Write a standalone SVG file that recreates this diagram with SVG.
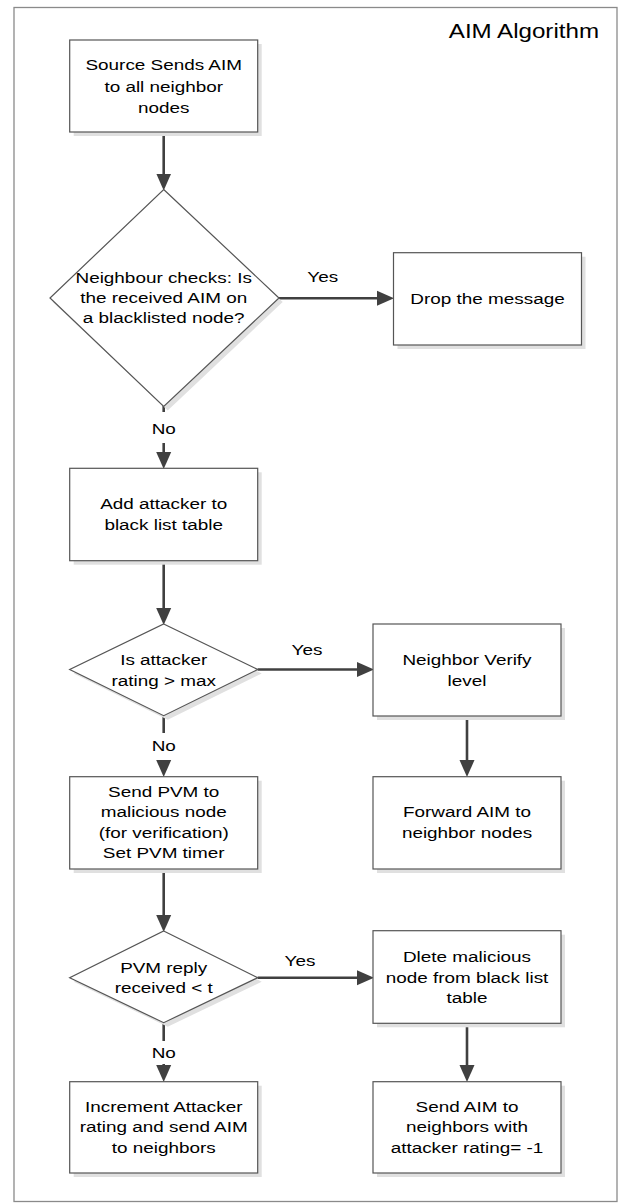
<svg xmlns="http://www.w3.org/2000/svg" width="620" height="1203" viewBox="0 0 620 1203">
<defs>
<style>
.frame{fill:#fff;stroke:#8a8a8a;stroke-width:1.3}
.box{fill:#fff;stroke:#555;stroke-width:1.2}
.sh{fill:#e0e0e0;stroke:none}
.ln{fill:none;stroke:#404040;stroke-width:2.6}
.t{font-family:"Liberation Sans",Arial,sans-serif;font-size:15.5px;text-anchor:middle;fill:#000}
.title{font-family:"Liberation Sans",Arial,sans-serif;font-size:21px;text-anchor:end;fill:#000}
</style>
<marker id="ah" markerUnits="userSpaceOnUse" markerWidth="18" markerHeight="18" viewBox="0 0 18 18" refX="8" refY="9" orient="auto">
<path d="M0,1.5 L17,9 L0,16.5 z" fill="#404040"/>
</marker>
</defs>
<rect class="frame" x="14" y="7.5" width="603" height="1194"/>
<text class="title" transform="translate(599 0) scale(1.15 1)" x="0" y="38">AIM Algorithm</text>

<g id="connectors">
<line class="ln" x1="163.7" y1="132" x2="163.7" y2="181.5" marker-end="url(#ah)"/>
<line class="ln" x1="278" y1="298.3" x2="385" y2="298.3" marker-end="url(#ah)"/>
<line class="ln" x1="163.7" y1="405" x2="163.7" y2="412"/>
<line class="ln" x1="163.7" y1="443" x2="163.7" y2="460" marker-end="url(#ah)"/>
<line class="ln" x1="163.7" y1="560.7" x2="163.7" y2="616" marker-end="url(#ah)"/>
<line class="ln" x1="257.7" y1="669.5" x2="365" y2="669.5" marker-end="url(#ah)"/>
<line class="ln" x1="467" y1="716" x2="467" y2="768" marker-end="url(#ah)"/>
<line class="ln" x1="163.7" y1="715.7" x2="163.7" y2="733"/>
<line class="ln" x1="163.7" y1="760" x2="163.7" y2="768" marker-end="url(#ah)"/>
<line class="ln" x1="163.7" y1="869" x2="163.7" y2="923" marker-end="url(#ah)"/>
<line class="ln" x1="257.7" y1="977.7" x2="365" y2="977.7" marker-end="url(#ah)"/>
<line class="ln" x1="467" y1="1023.3" x2="467" y2="1073" marker-end="url(#ah)"/>
<line class="ln" x1="163.7" y1="1022.7" x2="163.7" y2="1041"/>
<line class="ln" x1="163.7" y1="1064" x2="163.7" y2="1073" marker-end="url(#ah)"/>
</g>

<g id="labels">
<text class="t" transform="translate(322.7 0) scale(1.22 1)" x="0" y="282">Yes</text>
<text class="t" transform="translate(163.7 0) scale(1.22 1)" x="0" y="434">No</text>
<text class="t" transform="translate(307 0) scale(1.22 1)" x="0" y="655.5">Yes</text>
<text class="t" transform="translate(163.7 0) scale(1.22 1)" x="0" y="751">No</text>
<text class="t" transform="translate(300 0) scale(1.22 1)" x="0" y="966">Yes</text>
<text class="t" transform="translate(163.7 0) scale(1.22 1)" x="0" y="1058">No</text>
</g>

<g id="n1">
<rect class="sh" x="73.7" y="44" width="188" height="92"/>
<rect class="box" x="69.7" y="40" width="188" height="92"/>
<text class="t" transform="translate(163.7 0) scale(1.22 1)" x="0" y="70.5">Source Sends AIM<tspan x="0" y="92">to all neighbor</tspan><tspan x="0" y="113.5">nodes</tspan></text>
</g>

<g id="d1">
<polygon class="sh" points="167.7,193.5 282.7,302 167.7,410.5 52.7,302"/>
<polygon class="box" points="163.7,189.5 279,298 163.7,406.5 50,298"/>
<text class="t" transform="translate(163.7 0) scale(1.22 1)" x="0" y="283">Neighbour checks: Is<tspan x="0" y="303">the received AIM on</tspan><tspan x="0" y="323">a blacklisted node?</tspan></text>
</g>

<g id="drop">
<rect class="sh" x="397.5" y="256.7" width="188" height="92.3"/>
<rect class="box" x="393.5" y="252.7" width="188" height="92.3"/>
<text class="t" transform="translate(487.5 0) scale(1.22 1)" x="0" y="304">Drop the message</text>
</g>

<g id="n2">
<rect class="sh" x="73.7" y="472.3" width="188" height="92.4"/>
<rect class="box" x="69.7" y="468.3" width="188" height="92.4"/>
<text class="t" transform="translate(163.7 0) scale(1.22 1)" x="0" y="509.5">Add attacker to<tspan x="0" y="530">black list table</tspan></text>
</g>

<g id="d2">
<polygon class="sh" points="167.7,628 261.7,673.5 167.7,719.7 73.7,673.5"/>
<polygon class="box" points="163.7,624 257.7,669.5 163.7,715.7 69.7,669.5"/>
<text class="t" transform="translate(163.7 0) scale(1.22 1)" x="0" y="665.5">Is attacker<tspan x="0" y="686">rating &gt; max</tspan></text>
</g>

<g id="nv">
<rect class="sh" x="377" y="628" width="188" height="92"/>
<rect class="box" x="373" y="624" width="188" height="92"/>
<text class="t" transform="translate(467 0) scale(1.22 1)" x="0" y="665.5">Neighbor Verify<tspan x="0" y="686">level</tspan></text>
</g>

<g id="n3">
<rect class="sh" x="73.7" y="780.7" width="188" height="92.3"/>
<rect class="box" x="69.7" y="776.7" width="188" height="92.3"/>
<text class="t" transform="translate(163.7 0) scale(1.22 1)" x="0" y="797">Send PVM to<tspan x="0" y="817.5">malicious node</tspan><tspan x="0" y="838">(for verification)</tspan><tspan x="0" y="858.5">Set PVM timer</tspan></text>
</g>

<g id="fwd">
<rect class="sh" x="377" y="780.7" width="188" height="92.3"/>
<rect class="box" x="373" y="776.7" width="188" height="92.3"/>
<text class="t" transform="translate(467 0) scale(1.22 1)" x="0" y="817">Forward AIM to<tspan x="0" y="838">neighbor nodes</tspan></text>
</g>

<g id="d3">
<polygon class="sh" points="167.7,935 261.7,981.7 167.7,1026.7 73.7,981.7"/>
<polygon class="box" points="163.7,931 257.7,977.7 163.7,1022.7 69.7,977.7"/>
<text class="t" transform="translate(163.7 0) scale(1.22 1)" x="0" y="973">PVM reply<tspan x="0" y="993">received &lt; t</tspan></text>
</g>

<g id="del">
<rect class="sh" x="377" y="934.7" width="188" height="92.6"/>
<rect class="box" x="373" y="930.7" width="188" height="92.6"/>
<text class="t" transform="translate(467 0) scale(1.22 1)" x="0" y="962">Dlete malicious<tspan x="0" y="983">node from black list</tspan><tspan x="0" y="1003">table</tspan></text>
</g>

<g id="inc">
<rect class="sh" x="73.7" y="1085.7" width="188" height="91.3"/>
<rect class="box" x="69.7" y="1081.7" width="188" height="91.3"/>
<text class="t" transform="translate(163.7 0) scale(1.22 1)" x="0" y="1112">Increment Attacker<tspan x="0" y="1132.5">rating and send AIM</tspan><tspan x="0" y="1153.5">to neighbors</tspan></text>
</g>

<g id="send">
<rect class="sh" x="377" y="1085.7" width="188" height="91.3"/>
<rect class="box" x="373" y="1081.7" width="188" height="91.3"/>
<text class="t" transform="translate(467 0) scale(1.22 1)" x="0" y="1112">Send AIM to<tspan x="0" y="1132.5">neighbors with</tspan><tspan x="0" y="1153.5">attacker rating= -1</tspan></text>
</g>
</svg>
